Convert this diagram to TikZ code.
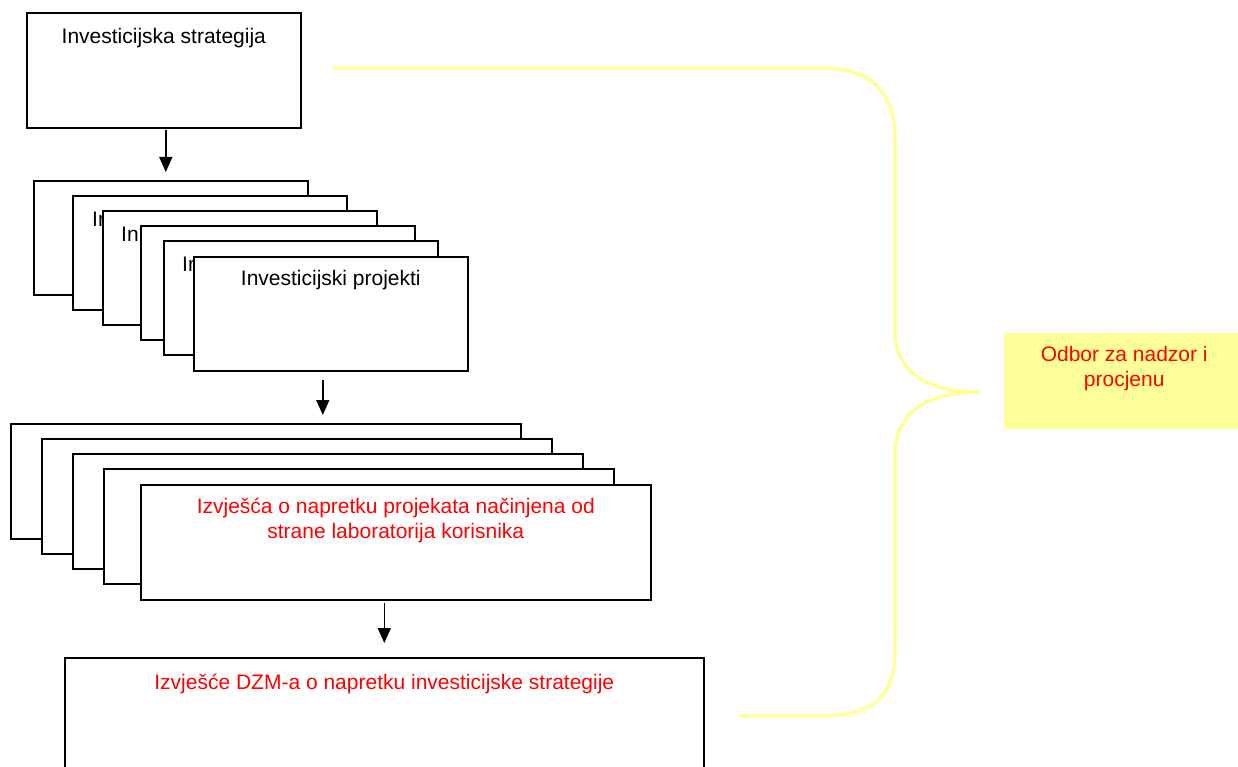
\documentclass[tikz,border=0pt]{standalone}
\usepackage{fontspec}
\setmainfont{Liberation Sans}
\usetikzlibrary{arrows.meta,calc}
\definecolor{pyellow}{HTML}{FFFF99}
\definecolor{pred}{HTML}{FF0000}
\tikzset{
  card/.style={draw=black, line width=1.6pt, fill=white, anchor=north west, inner sep=0pt},
  card1/.style={card, minimum width=274pt, minimum height=114pt},
  card2/.style={card, minimum width=510pt, minimum height=115pt},
  lbl/.style={inner sep=0pt, font=\fontsize{21}{25}\selectfont, align=center},
  redlbl/.style={lbl, text=pred},
  arr/.style={line width=1.4pt, -{Triangle[length=15pt,width=13pt]}},
  brace/.style={draw=pyellow, line width=3.5pt, line cap=round},
}
\begin{document}
\begin{tikzpicture}[x=1pt,y=-1pt]
\clip (0,0) rectangle (1238,767);
\fill[white] (0,0) rectangle (1238,767);
% top box
\node[card, minimum width=274pt, minimum height=115pt] (top) at (26,12) {};
\node[lbl] (topt) at ($(top.north)+(0,26)$) {Investicijska strategija};
% stack 1
\node[card1] (pA) at (33,180) {};
\node[card1] (pB) at (72,195) {};
\node[lbl, anchor=west] (pBt) at (92,219) {In};
\node[card1] (pC) at (102,210) {};
\node[lbl, anchor=west] (pCt) at (121,234) {In};
\node[card1] (pD) at (140,225) {};
\node[card1] (pE) at (163,240) {};
\node[lbl, anchor=west] (pEt) at (182,264) {In};
\node[card1] (pF) at (193,256) {};
\node[lbl] (pFt) at ($(pF.north)+(0,24)$) {Investicijski projekti};
% stack 2
\node[card2] (rA) at (10,423) {};
\node[card2] (rB) at (41,438) {};
\node[card2] (rC) at (72,453) {};
\node[card2] (rD) at (103,468) {};
\node[card2] (rE) at (140,484) {};
\node[redlbl] (rEt) at ($(rE.north)+(0,36)$) {Izvješća o napretku projekata načinjena od\\strane laboratorija korisnika};
% bottom box
\node[card, minimum width=639pt, minimum height=130pt] (bot) at (64,657) {};
\node[redlbl] (bott) at ($(bot.north)+(0,27)$) {Izvješće DZM-a o napretku investicijske strategije};
% right box
\node[fill=pyellow, anchor=north west, minimum width=240pt, minimum height=96pt, inner sep=0pt] (odb) at (1004,333) {};
\node[redlbl] (odbt) at ($(odb.north)+(0,36)$) {Odbor za nadzor i\\procjenu};
% arrows
\draw[arr] ($(top.south)+(2,1)$) -- ($(top.south |- pA.north)+(2,-8)$);
\draw[arr] ($(pF.south)+(-8,8)$) -- ($(pF.south |- rA.north)+(-8,-8)$);
\draw[arr] ($(bot.north |- rE.south)+(0,2)$) -- ($(bot.north)+(0,-14)$);
% brace
\coordinate (b1) at (333,68);
\coordinate (tip) at ($(odb.west)+(-24,11)$);
\coordinate (b2) at ($(bot.north east)+(37,59)$);
\draw[brace] (b1) -- (820,68) .. controls (870,68) and (895,90) .. (895,140) -- (895,330)
  .. controls (895,375) and (930,392) .. (tip)
  .. controls (930,392) and (895,410) .. (895,455) -- (895,650)
  .. controls (895,700) and (870,716) .. (820,716) -- (b2);
\end{tikzpicture}
\end{document}
